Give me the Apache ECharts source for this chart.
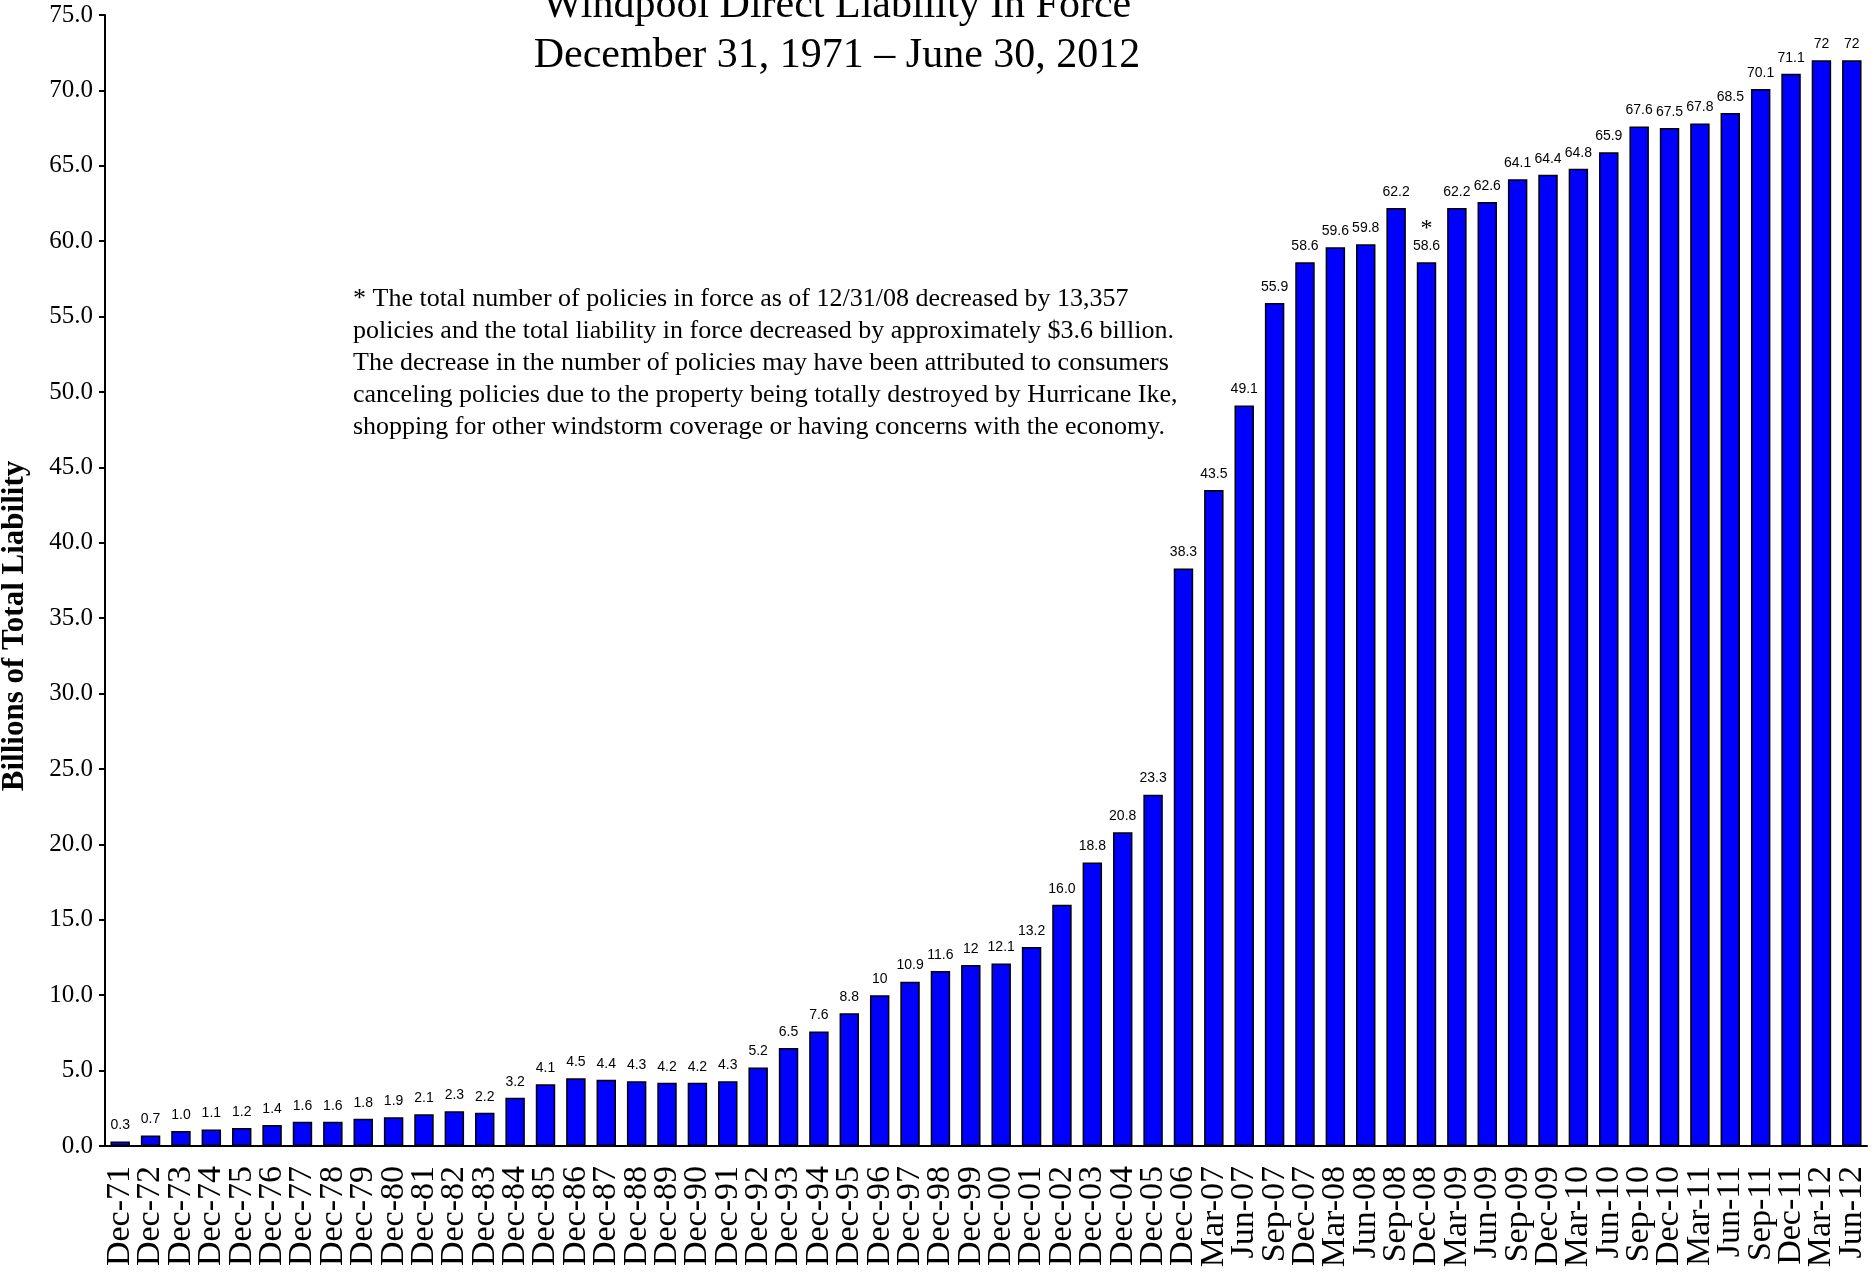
<!DOCTYPE html>
<html>
<head>
<meta charset="utf-8">
<script src="https://cdn.jsdelivr.net/npm/echarts@6/dist/echarts.min.js"></script>
<style>
  html, body { margin: 0; padding: 0; background: #fff; }
  #chart { width: 1874px; height: 1278px; }
</style>
</head>
<body>
<div id="chart"></div>
<script>
// period labels along the bottom
const periods = [
  'Dec-71', 'Dec-72', 'Dec-73', 'Dec-74', 'Dec-75', 'Dec-76', 'Dec-77', 'Dec-78', 'Dec-79', 'Dec-80',
  'Dec-81', 'Dec-82', 'Dec-83', 'Dec-84', 'Dec-85', 'Dec-86', 'Dec-87', 'Dec-88', 'Dec-89', 'Dec-90',
  'Dec-91', 'Dec-92', 'Dec-93', 'Dec-94', 'Dec-95', 'Dec-96', 'Dec-97', 'Dec-98', 'Dec-99', 'Dec-00',
  'Dec-01', 'Dec-02', 'Dec-03', 'Dec-04', 'Dec-05', 'Dec-06',
  'Mar-07', 'Jun-07', 'Sep-07', 'Dec-07', 'Mar-08', 'Jun-08', 'Sep-08', 'Dec-08',
  'Mar-09', 'Jun-09', 'Sep-09', 'Dec-09', 'Mar-10', 'Jun-10', 'Sep-10', 'Dec-10',
  'Mar-11', 'Jun-11', 'Sep-11', 'Dec-11', 'Mar-12', 'Jun-12'
];

// liability in force, billions
const liability = [
  0.3, 0.7, 1.0, 1.1, 1.2, 1.4, 1.6, 1.6, 1.8, 1.9,
  2.1, 2.3, 2.2, 3.2, 4.1, 4.5, 4.4, 4.3, 4.2, 4.2,
  4.3, 5.2, 6.5, 7.6, 8.8, 10, 10.9, 11.6, 12, 12.1,
  13.2, 16.0, 18.8, 20.8, 23.3, 38.3,
  43.5, 49.1, 55.9, 58.6, 59.6, 59.8, 62.2, 58.6,
  62.2, 62.6, 64.1, 64.4, 64.8, 65.9, 67.6, 67.5,
  67.8, 68.5, 70.1, 71.1, 72, 72
];

// labels as printed over the bars
const barLabels = [
  '0.3', '0.7', '1.0', '1.1', '1.2', '1.4', '1.6', '1.6', '1.8', '1.9',
  '2.1', '2.3', '2.2', '3.2', '4.1', '4.5', '4.4', '4.3', '4.2', '4.2',
  '4.3', '5.2', '6.5', '7.6', '8.8', '10', '10.9', '11.6', '12', '12.1',
  '13.2', '16.0', '18.8', '20.8', '23.3', '38.3',
  '43.5', '49.1', '55.9', '58.6', '59.6', '59.8', '62.2', '58.6',
  '62.2', '62.6', '64.1', '64.4', '64.8', '65.9', '67.6', '67.5',
  '67.8', '68.5', '70.1', '71.1', '72', '72'
];

const notedPeriod = 'Dec-08';

const noteLines = [
  '* The total number of policies in force as of 12/31/08 decreased by 13,357',
  'policies and the total liability in force decreased by approximately $3.6 billion.',
  'The decrease in the number of policies may have been attributed to consumers',
  'canceling policies due to the property being totally destroyed by Hurricane Ike,',
  'shopping for other windstorm coverage or having concerns with the economy.'
];

const serif = "'Liberation Serif', 'Times New Roman', serif";
const narrow = "'Liberation Sans Narrow', 'Liberation Sans', Arial, sans-serif";

const chart = echarts.init(document.getElementById('chart'));

chart.setOption({
  animation: false,
  backgroundColor: '#fff',
  grid: { left: 105, right: 7, top: 15, bottom: 132 },
  graphic: [
    {
      type: 'text', x: 837, y: 6,
      style: {
        text: 'Windpool Direct Liability In Force',
        font: '42px ' + serif, fill: '#000',
        textAlign: 'center', textVerticalAlign: 'middle'
      }
    },
    {
      type: 'text', x: 837, y: 56,
      style: {
        text: 'December 31, 1971 \u2013 June 30, 2012',
        font: '42px ' + serif, fill: '#000',
        textAlign: 'center', textVerticalAlign: 'middle'
      }
    },
    {
      type: 'text', x: 353, y: 283,
      style: {
        text: noteLines.join('\n'),
        font: '26px ' + serif, fill: '#000',
        lineHeight: 32
      }
    },
    {
      type: 'text', x: 15, y: 626, rotation: Math.PI / 2,
      style: {
        text: 'Billions of Total Liability',
        font: 'bold 31px ' + serif, fill: '#000',
        textAlign: 'center', textVerticalAlign: 'middle'
      }
    }
  ],
  xAxis: {
    type: 'category',
    data: periods,
    axisLine: { lineStyle: { color: '#000', width: 2 } },
    axisTick: { show: false },
    axisLabel: {
      interval: 0,
      rotate: 90,
      margin: 20,
      fontFamily: serif,
      fontSize: 34,
      color: '#000'
    }
  },
  yAxis: {
    type: 'value',
    min: 0,
    max: 75,
    interval: 5,
    splitLine: { show: false },
    axisLine: { show: true, lineStyle: { color: '#000', width: 2 } },
    axisTick: { show: true, length: 6, lineStyle: { color: '#000', width: 2 } },
    axisLabel: {
      fontFamily: serif,
      fontSize: 25,
      color: '#000',
      margin: 12,
      formatter: v => v.toFixed(1)
    }
  },
  series: [{
    type: 'bar',
    data: liability,
    barWidth: '64%',
    itemStyle: { color: '#0000ff', borderColor: '#000', borderWidth: 1.5 },
    label: {
      show: true,
      position: 'top',
      distance: 9,
      fontFamily: narrow,
      fontSize: 14,
      color: '#000',
      formatter: p => periods[p.dataIndex] === notedPeriod
        ? '{star|*}\n' + barLabels[p.dataIndex]
        : barLabels[p.dataIndex],
      rich: {
        star: { fontFamily: serif, fontSize: 24, lineHeight: 22, color: '#000' }
      }
    }
  }]
});
</script>
</body>
</html>
